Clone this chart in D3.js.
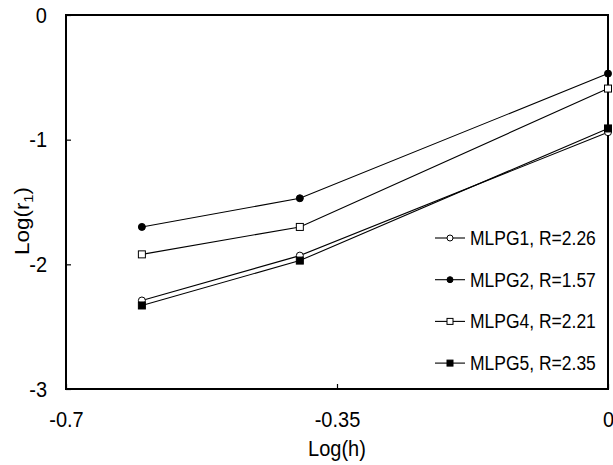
<!DOCTYPE html>
<html>
<head>
<meta charset="utf-8">
<script src="https://cdn.jsdelivr.net/npm/d3@7"></script>
<style>
  body { margin: 0; background: #fff; }
  svg { display: block; font-family: "Liberation Sans", Arial, sans-serif; }
  /* labels are drawn slightly taller than wide */
  .tall { transform-box: fill-box; transform-origin: center; transform: scaleY(1.12); }
</style>
</head>
<body>
<svg id="chart" width="613" height="465"></svg>
<script>
// Log(h) positions of the three refinement levels
const logH = [-0.602, -0.398, 0];

// Log(r1) error values for each method
const mlpg1 = [-2.29, -1.93, -0.94];
const mlpg2 = [-1.70, -1.47, -0.47];
const mlpg4 = [-1.92, -1.70, -0.59];
const mlpg5 = [-2.33, -1.97, -0.91];

const seriesNames = ["MLPG1, R=2.26", "MLPG2, R=1.57", "MLPG4, R=2.21", "MLPG5, R=2.35"];
const xTicks = [-0.7, -0.35, 0];
const yTicks = [-3, -2, -1, 0];

const series = [
  { name: seriesNames[0], values: mlpg1, shape: "circle", fill: "#fff" },
  { name: seriesNames[1], values: mlpg2, shape: "circle", fill: "#000" },
  { name: seriesNames[2], values: mlpg4, shape: "square", fill: "#fff" },
  { name: seriesNames[3], values: mlpg5, shape: "square", fill: "#000" }
];

const svg = d3.select("#chart");
const plotLeft = 66, plotRight = 608, plotTop = 15, plotBottom = 389;
const axisFont = 20, legendFont = 17.5;

const x = d3.scaleLinear().domain([-0.7, 0]).range([plotLeft, plotRight]);
const y = d3.scaleLinear().domain([-3, 0]).range([plotBottom, plotTop]);

// plot frame: left and bottom axes plus top and right border
svg.append("rect")
  .attr("x", plotLeft).attr("y", plotTop)
  .attr("width", plotRight - plotLeft).attr("height", plotBottom - plotTop)
  .attr("fill", "none").attr("stroke", "#000").attr("stroke-width", 2);

// y axis ticks (inside) and labels
const yAxis = d3.axisLeft(y).tickValues(yTicks).tickSizeInner(-5).tickSizeOuter(0)
  .tickPadding(19).tickFormat(d => String(d));
const gy = svg.append("g").attr("transform", `translate(${plotLeft},0)`).call(yAxis);
gy.select(".domain").remove();
gy.selectAll("text").attr("font-size", axisFont).attr("fill", "#000")
  .attr("font-family", "Liberation Sans, Arial, sans-serif").attr("class", "tall");
gy.selectAll("line").attr("stroke", "#000").attr("stroke-width", 1.2);

// x axis ticks (inside) and labels
const xAxis = d3.axisBottom(x).tickValues(xTicks).tickSizeInner(-5).tickSizeOuter(0)
  .tickPadding(23).tickFormat(d => String(d));
const gx = svg.append("g").attr("transform", `translate(0,${plotBottom})`).call(xAxis);
gx.select(".domain").remove();
gx.selectAll("text").attr("font-size", axisFont).attr("fill", "#000")
  .attr("font-family", "Liberation Sans, Arial, sans-serif").attr("class", "tall");
gx.selectAll("line").attr("stroke", "#000").attr("stroke-width", 1.2);

// axis titles
svg.append("text").attr("class", "tall")
  .attr("x", (plotLeft + plotRight) / 2).attr("y", 455)
  .attr("text-anchor", "middle").attr("font-size", axisFont).text("Log(h)");

const yt = svg.append("g").attr("transform", "translate(29,221) scale(1,1.12) rotate(-90)")
  .append("text").attr("text-anchor", "middle").attr("font-size", axisFont);
yt.append("tspan").text("Log(r");
yt.append("tspan").attr("font-size", 13).attr("dy", 4).text("1");
yt.append("tspan").attr("dy", -4).text(")");

// series lines and markers
const line = d3.line().x((d, i) => x(logH[i])).y(d => y(d));

function marker(g, s, cx, cy, size) {
  if (s.shape === "circle") {
    g.append("circle").attr("cx", cx).attr("cy", cy).attr("r", size / 2)
      .attr("fill", s.fill).attr("stroke", "#000").attr("stroke-width", 1);
  } else {
    g.append("rect").attr("x", cx - size / 2).attr("y", cy - size / 2)
      .attr("width", size).attr("height", size)
      .attr("fill", s.fill).attr("stroke", "#000").attr("stroke-width", 1);
  }
}

const plot = svg.append("g");
series.forEach(s => {
  plot.append("path").datum(s.values).attr("d", line)
    .attr("fill", "none").attr("stroke", "#000").attr("stroke-width", 1.1);
});
series.forEach(s => {
  s.values.forEach((v, i) => marker(plot, s, x(logH[i]), y(v), 7));
});

// legend
const legend = svg.append("g");
series.forEach((s, i) => {
  const ly = 238 + i * 41.7;
  legend.append("line").attr("x1", 435).attr("x2", 465).attr("y1", ly).attr("y2", ly)
    .attr("stroke", "#000").attr("stroke-width", 1.1);
  marker(legend, s, 450, ly, 6);
  legend.append("text").attr("class", "tall").attr("x", 470).attr("y", ly).attr("dy", "0.35em")
    .attr("font-size", legendFont).text(s.name);
});
</script>
</body>
</html>
